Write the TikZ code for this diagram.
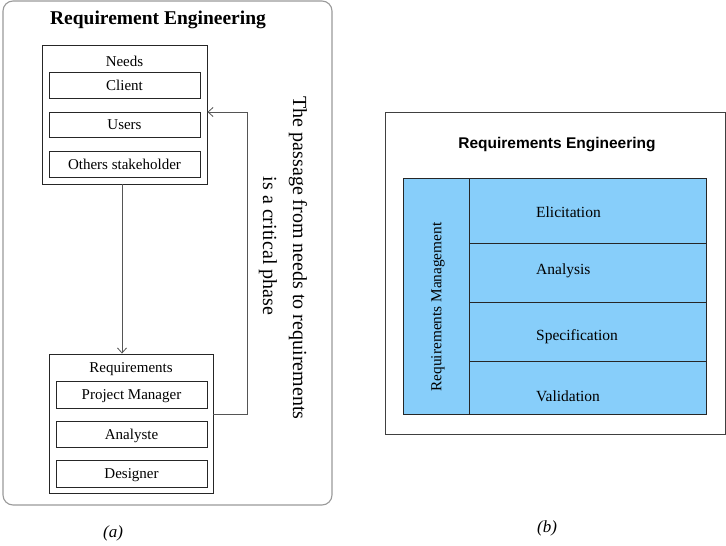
\documentclass[tikz,border=0pt]{standalone}
\usepackage{fontspec}
\setmainfont{Liberation Serif}
\newfontfamily\arialfont{Liberation Sans}
\usetikzlibrary{arrows.meta}
\definecolor{skyfill}{HTML}{87CEFA}
\definecolor{panelgray}{HTML}{9A9A9A}
\definecolor{linegray}{HTML}{555555}
\tikzset{
  fs/.style={font=\fontsize{#1}{#1}\selectfont},
  box/.style={draw=black!85, line width=0.9pt, inner sep=0pt, fs=15, text height=12pt, text depth=2pt},
  lbl/.style={inner sep=0pt, fs=15},
  conn/.style={draw=linegray, line width=0.8pt},
  tip/.style={-{Straight Barb[length=5pt,width=9pt]}},
  cell/.style={draw=black!85, fill=skyfill, line width=0.8pt}
}
\begin{document}
\begin{tikzpicture}[x=1pt,y=-1pt]
\useasboundingbox (0,0) rectangle (726,546);
% ---------- panel (a)
\draw[panelgray, line width=1.1pt, rounded corners=10pt] (3,1) rectangle (332,505);
\node[inner sep=0pt, font=\fontsize{19.5}{19.5}\selectfont\bfseries] (ttlA) at (158,20) {Requirement Engineering};

\node[draw=black!85, line width=0.9pt, inner sep=0pt, minimum width=165pt, minimum height=139pt] (needs) at (124.5,114.5) {};
\node[lbl] (needsl) at (124.5,61) {Needs};
\node[box, minimum width=151pt, minimum height=26pt] (client) at (124.5,85) {Client};
\node[box, minimum width=151pt, minimum height=25pt] (users) at (124.5,124.5) {Users};
\node[box, minimum width=151pt, minimum height=26pt] (others) at (124.5,164) {Others stakeholder};

\node[draw=black!85, line width=0.9pt, inner sep=0pt, minimum width=164pt, minimum height=139pt] (reqs) at (131,423.5) {};
\node[lbl] (reqsl) at (131,369) {Requirements};
\node[box, minimum width=151pt, minimum height=27pt] (pm) at (131.5,394.5) {Project Manager};
\node[box, minimum width=151pt, minimum height=26pt] (analyste) at (131.5,434) {Analyste};
\node[box, minimum width=151pt, minimum height=27pt] (designer) at (131.5,473.5) {Designer};

\draw[conn, tip] (122,0 |- needs.south) -- (122,0 |- reqs.north);
\coordinate (fb1) at (247,414);
\coordinate (fb2) at (247,112);
\draw[conn, tip] (reqs.east |- fb1) -- (fb1) -- (fb2) -- (needs.east |- fb2);

\node[inner sep=0pt, rotate=-90, fs=20] (pass1) at (298,258) {The passage from needs to requirements};
\node[inner sep=0pt, rotate=-90, fs=20] (pass2) at (268,246) {is a critical phase};

\node[inner sep=0pt, font=\fontsize{17}{17}\selectfont\itshape] (capa) at (113,533) {(a)};

% ---------- panel (b)
\draw[draw=black!75, line width=0.9pt] (385,112) rectangle (725,434);
\node[inner sep=0pt, font=\arialfont\fontsize{15.5}{15.5}\selectfont\bfseries] (ttlB) at (557,145) {Requirements Engineering};

\draw[cell] (403,178) rectangle (469,414);
\draw[cell] (469,178) rectangle (706,243);
\draw[cell] (469,243) rectangle (706,302);
\draw[cell] (469,302) rectangle (706,361);
\draw[cell] (469,361) rectangle (706,414);
\node[inner sep=0pt, rotate=90, fs=15.3] (rm) at (438,307) {Requirements Management};
\node[inner sep=0pt, anchor=west, fs=15.5] (elic) at (536,212) {Elicitation};
\node[inner sep=0pt, anchor=west, fs=15.5] (anal) at (536,271) {Analysis};
\node[inner sep=0pt, anchor=west, fs=15.5] (spec) at (536,337) {Specification};
\node[inner sep=0pt, anchor=west, fs=15.5] (vali) at (536,396) {Validation};

\node[inner sep=0pt, font=\fontsize{17}{17}\selectfont\itshape] (capb) at (547,528) {(b)};
\end{tikzpicture}
\end{document}
